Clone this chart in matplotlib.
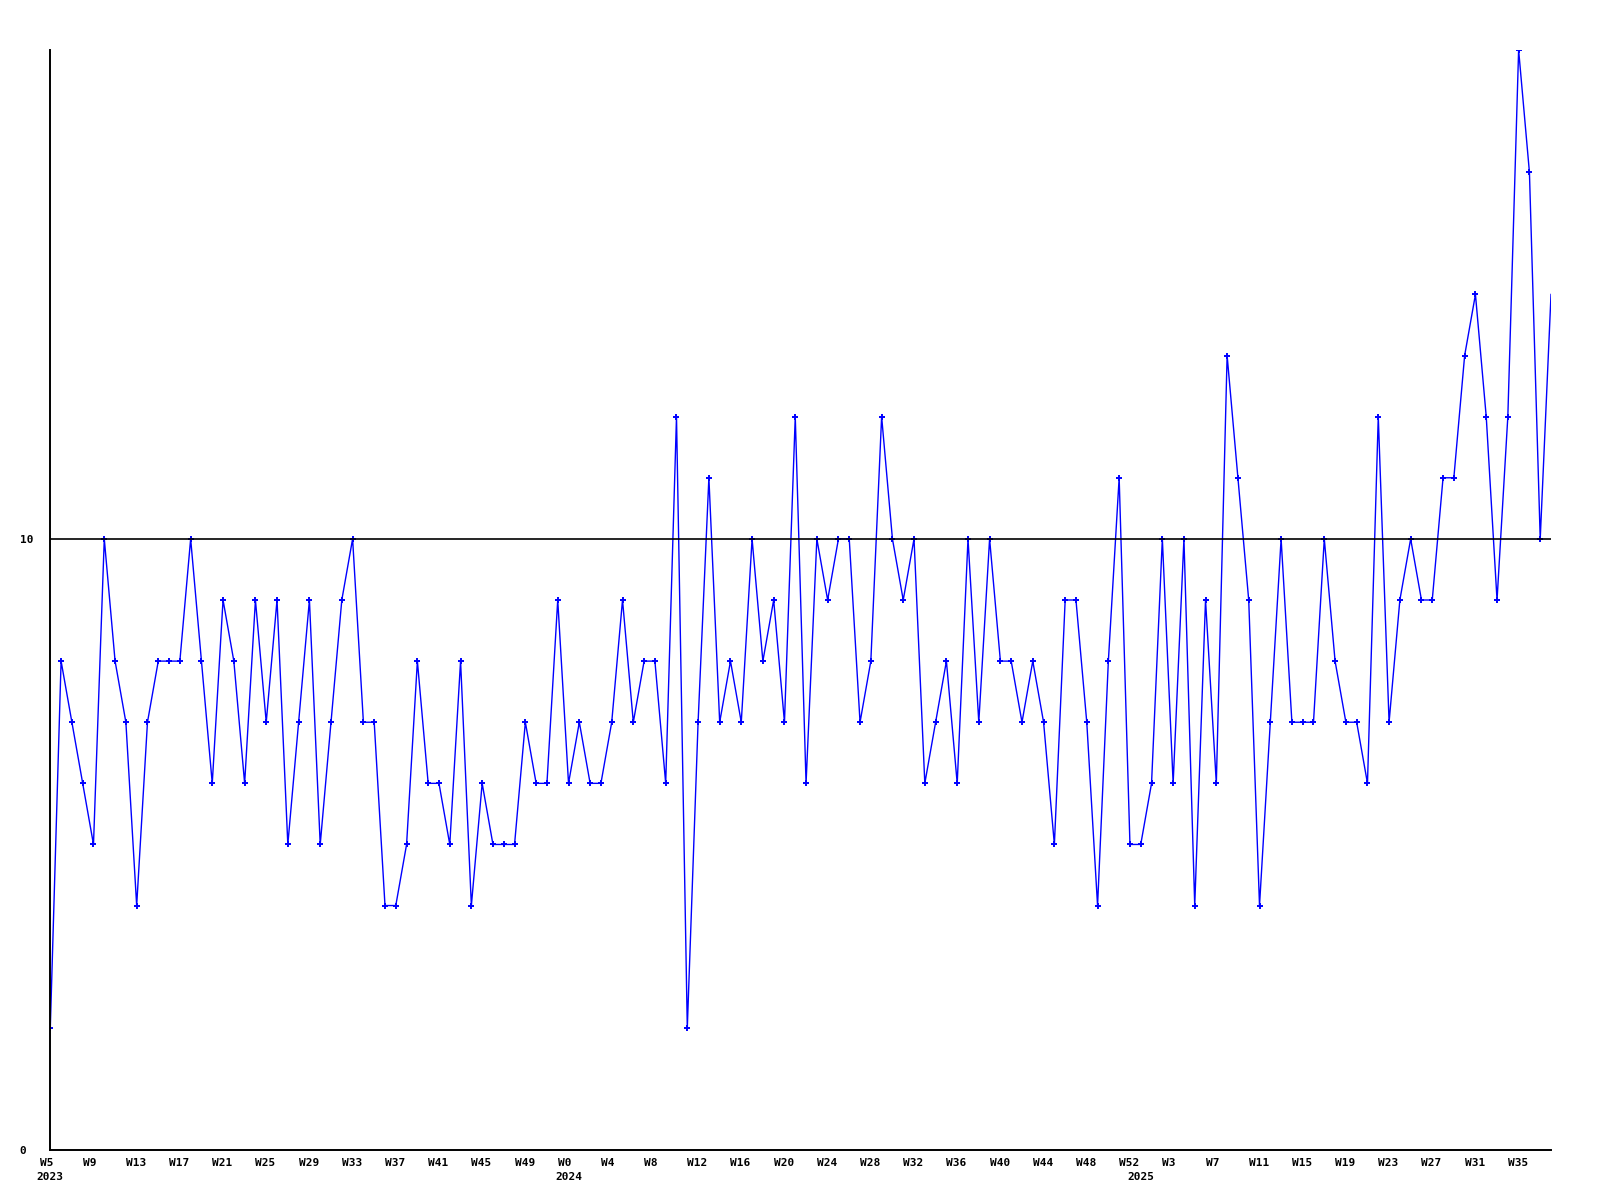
import matplotlib
matplotlib.use("Agg")
import matplotlib.pyplot as plt
import matplotlib.transforms as mtransforms
import numpy as np

# weekly counts, 2023 W5 .. 2025 W38 (last one sits on the right edge)
counts = [2, 8, 7, 6, 5, 10, 8, 7, 4, 7, 8, 8, 8, 10, 8, 6, 9, 8, 6, 9,
          7, 9, 5, 7, 9, 5, 7, 9, 10, 7, 7, 4, 4, 5, 8, 6, 6, 5, 8, 4,
          6, 5, 5, 5, 7, 6, 6, 9,
          6, 7, 6, 6, 7, 9, 7, 8, 8, 6, 12, 2, 7, 11, 7, 8, 7, 10, 8, 9,
          7, 12, 6, 10, 9, 10, 10, 7, 8, 12, 10, 9, 10, 6, 7, 8, 6, 10, 7, 10,
          8, 8, 7, 8, 7, 5, 9, 9, 7, 4, 8, 11, 5,
          5, 6, 10, 6, 10, 4, 9, 6, 13, 11, 9, 4, 7, 10, 7, 7, 7, 10, 8, 7,
          7, 6, 12, 7, 9, 10, 9, 9, 11, 11, 13, 14, 12, 9, 12, 18, 16, 10, 14]
start_year = 2023
start_week = 5
weeks_in_year = 53  # W0 .. W52

# build week / year labels for each point
weeks = []
years = []
w, y = start_week, start_year
for _ in counts:
    weeks.append(w)
    years.append(y)
    w += 1
    if w >= weeks_in_year:
        w = 0
        y += 1

x = np.arange(len(counts))

fig = plt.figure(figsize=(16, 12), dpi=100)
ax = fig.add_axes([50.3 / 1600, 50 / 1200, 1500.5 / 1600, 1100 / 1200])

ax.plot(x, counts, color="#0000ff", lw=1.0, marker="+", ms=4, mew=1.4,
        markevery=slice(0, len(counts) - 1))
ax.axhline(10, color="black", lw=1.2)

ax.set_xlim(0, len(counts) - 1.02)
ax.set_ylim(0, 18)

for s in ["top", "right"]:
    ax.spines[s].set_visible(False)
for s in ["left", "bottom"]:
    ax.spines[s].set_linewidth(1.4)

font = dict(family="DejaVu Sans Mono", weight="bold", size=8)

ax.set_yticks([0, 10])
ax.set_yticklabels(["0", "10"], **font)
ax.tick_params(axis="y", length=0, pad=22)
for lab in ax.get_yticklabels():
    lab.set_horizontalalignment("left")

tick_idx = x[::4]
ax.set_xticks(tick_idx)
ax.set_xticklabels(["W%d" % weeks[i] for i in tick_idx], **font)
ax.tick_params(axis="x", length=0, pad=6)
offset = mtransforms.ScaledTranslation(-10.8 / 100, 0, fig.dpi_scale_trans)
for lab in ax.get_xticklabels():
    lab.set_horizontalalignment("left")
    lab.set_transform(lab.get_transform() + offset)

# year labels under the first week of each year
trans = mtransforms.blended_transform_factory(ax.transData, ax.transAxes)
prev = None
for i, yr in enumerate(years):
    if yr != prev:
        ax.text(i, -27 / 1100, str(yr), transform=trans, ha="center",
                va="center", **font)
        prev = yr

fig.savefig("out.png", dpi=100)
